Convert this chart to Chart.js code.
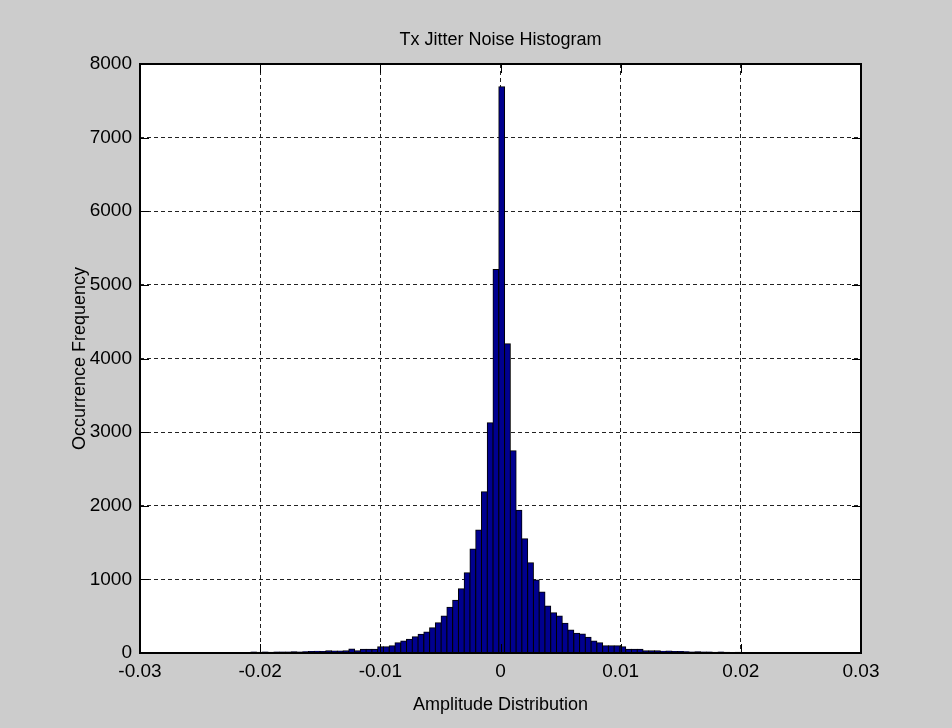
<!DOCTYPE html>
<html>
<head>
<meta charset="utf-8">
<title>Tx Jitter Noise Histogram</title>
<script src="https://cdn.jsdelivr.net/npm/chart.js@4.4.1/dist/chart.umd.min.js"></script>
<style>
  html, body { margin: 0; padding: 0; background: #cccccc; }
  #wrap { width: 952px; height: 728px; }
</style>
</head>
<body>
<div id="wrap"><canvas id="histChart" width="952" height="728"></canvas></div>
<script>
// Histogram data (100 bins)
const binStart = -0.02174;
const binWidth = 0.00048;
const counts = [
  8, 3, 12, 10, 14, 10, 12, 15, 12, 16, 14, 18, 20, 25, 22, 30, 27,
  27, 30, 54, 30, 50, 50, 50, 86, 86, 99, 140, 163, 186, 222,
  255, 285, 344, 412, 502, 620, 716, 873, 1090, 1412, 1670, 2190, 3128, 5210, 7690, 4200, 2747,
  1938, 1552, 1226, 992, 828, 638, 547, 502, 403, 312, 267, 258, 213, 163, 140, 99, 99, 99, 86, 50, 50, 50, 30, 30, 30,
  25, 27, 20, 22, 18, 15, 16, 12, 14, 10, 12, 10, 8, 9, 7, 8, 6, 7, 5, 6, 4, 0, 4, 5, 3, 4, 3
];

// Axis ticks
const xTickValues = [-0.03, -0.02, -0.01, 0, 0.01, 0.02, 0.03];
const xTickLabels = ["-0.03", "-0.02", "-0.01", "0", "0.01", "0.02", "0.03"];
const yTickValues = [0, 1000, 2000, 3000, 4000, 5000, 6000, 7000, 8000];

const titleText = "Tx Jitter Noise Histogram";
const xLabelText = "Amplitude Distribution";
const yLabelText = "Occurrence Frequency";

const FONT = '"Liberation Sans", Arial, Helvetica, sans-serif';

// bin centres -> points for the bar dataset
const points = counts.map((c, i) => ({ x: binStart + (i + 0.5) * binWidth, y: c }));

// Background, frame, inward ticks and text labels
const matlabLook = {
  id: "matlabLook",
  beforeDraw(chart) {
    const { ctx, chartArea: a } = chart;
    ctx.save();
    ctx.fillStyle = "#cccccc";
    ctx.fillRect(0, 0, chart.width, chart.height);
    ctx.fillStyle = "#ffffff";
    ctx.fillRect(a.left, a.top, a.right - a.left, a.bottom - a.top);
    ctx.restore();
  },
  afterDatasetsDraw(chart) {
    const { ctx, chartArea: a, scales } = chart;
    const tl = 9;
    ctx.save();
    ctx.strokeStyle = "#000000";
    ctx.lineWidth = 1;
    ctx.beginPath();
    xTickValues.forEach((v) => {
      const px = Math.round(scales.x.getPixelForValue(v)) + 0.5;
      ctx.moveTo(px, a.bottom);
      ctx.lineTo(px, a.bottom - tl);
      ctx.moveTo(px, a.top);
      ctx.lineTo(px, a.top + tl);
    });
    yTickValues.forEach((v) => {
      const py = Math.round(scales.y.getPixelForValue(v)) + 0.5;
      ctx.moveTo(a.left, py);
      ctx.lineTo(a.left + tl, py);
      ctx.moveTo(a.right, py);
      ctx.lineTo(a.right - tl, py);
    });
    ctx.stroke();
    ctx.lineWidth = 2;
    ctx.strokeRect(a.left, a.top, a.right - a.left, a.bottom - a.top);
    ctx.restore();
  },
  afterDraw(chart) {
    const { ctx, chartArea: a } = chart;
    const cx = (a.left + a.right) / 2;
    ctx.save();
    ctx.fillStyle = "#000000";
    ctx.font = "18px " + FONT;
    ctx.textAlign = "center";
    ctx.textBaseline = "middle";
    ctx.fillText(titleText, cx, 40);
    ctx.fillText(xLabelText, cx, 705);
    ctx.translate(80, (a.top + a.bottom) / 2);
    ctx.rotate(-Math.PI / 2);
    ctx.fillText(yLabelText, 0, 0);
    ctx.restore();
  }
};

function fixBox(w, h) {
  return (s) => {
    if (w !== null) s.width = w;
    if (h !== null) s.height = h;
    s.paddingLeft = 0;
    s.paddingRight = 0;
    s.paddingTop = 0;
    s.paddingBottom = 0;
  };
}

const ctx = document.getElementById("histChart").getContext("2d");
new Chart(ctx, {
  type: "bar",
  data: {
    datasets: [
      {
        label: "Occurrences",
        data: points,
        backgroundColor: "#00008f",
        borderColor: "#000000",
        borderWidth: 1,
        borderSkipped: "bottom",
        barPercentage: 1,
        categoryPercentage: 1,
        inflateAmount: 0.5
      }
    ]
  },
  options: {
    responsive: false,
    animation: false,
    devicePixelRatio: 1,
    layout: { padding: { left: 0, top: 64, right: 91, bottom: 0 } },
    plugins: {
      legend: { display: false },
      title: { display: false },
      tooltip: { enabled: false }
    },
    scales: {
      x: {
        type: "linear",
        min: -0.03,
        max: 0.03,
        offset: false,
        afterBuildTicks: (s) => { s.ticks = xTickValues.map((v) => ({ value: v })); },
        afterFit: fixBox(null, 75),
        ticks: {
          callback: (v) => xTickLabels[xTickValues.findIndex((t) => Math.abs(t - v) < 1e-9)],
          color: "#000000",
          font: { family: FONT, size: 19 },
          padding: 7,
          maxRotation: 0,
          autoSkip: false
        },
        grid: {
          offset: false,
          color: "#222222",
          lineWidth: 1,
          drawTicks: false
        },
        border: { display: false, dash: [4, 3] }
      },
      y: {
        type: "linear",
        min: 0,
        max: 8000,
        afterBuildTicks: (s) => { s.ticks = yTickValues.map((v) => ({ value: v })); },
        afterFit: fixBox(140, null),
        ticks: {
          callback: (v) => String(v),
          color: "#000000",
          font: { family: FONT, size: 19 },
          padding: 8,
          autoSkip: false
        },
        grid: {
          color: "#222222",
          lineWidth: 1,
          drawTicks: false
        },
        border: { display: false, dash: [4, 3] }
      }
    }
  },
  plugins: [matlabLook]
});
</script>
</body>
</html>
